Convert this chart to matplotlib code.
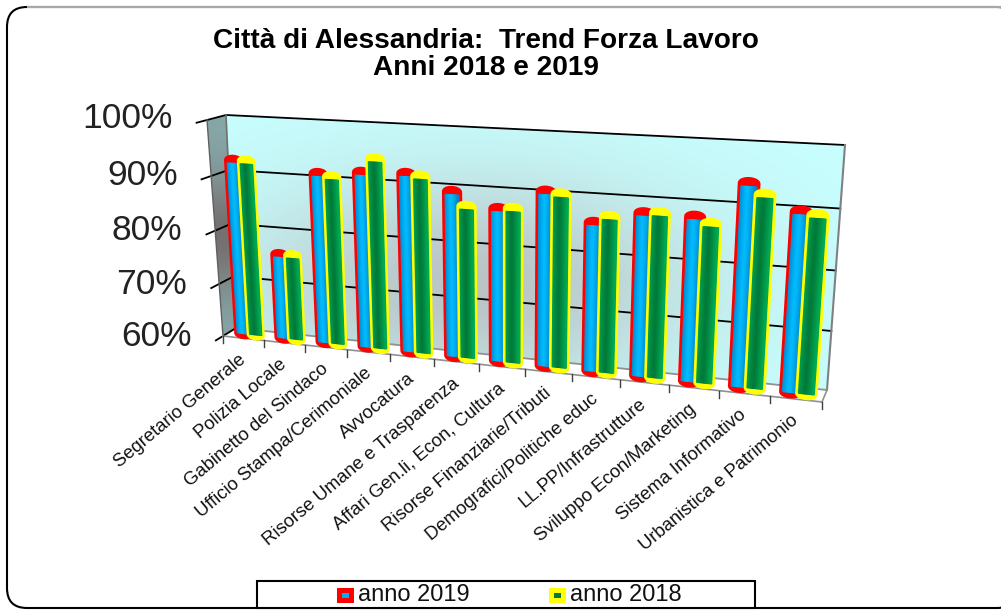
import numpy as np
import matplotlib
matplotlib.use("Agg")
import matplotlib.pyplot as plt
from matplotlib.patches import FancyBboxPatch, Polygon, Rectangle
from matplotlib.transforms import Transform

plt.rcParams['font.family'] = ['Liberation Sans', 'DejaVu Sans']

settori = ["Segretario Generale", "Polizia Locale", "Gabinetto del Sindaco",
           "Ufficio Stampa/Cerimoniale", "Avvocatura", "Risorse Umane e Trasparenza",
           "Affari Gen.li, Econ, Cultura", "Risorse Finanziarie/Tributi",
           "Demografici/Politiche educ", "LL.PP/Infrastrutture",
           "Sviluppo Econ/Marketing", "Sistema Informativo", "Urbanistica e Patrimonio"]
anno_2019 = [92.4, 75.7, 91.0, 91.7, 92.0, 89.4, 87.0, 90.5, 85.8, 88.0, 88.0, 94.0, 90.0]
anno_2018 = [92.4, 75.7, 90.6, 94.2, 91.7, 87.0, 87.2, 90.2, 87.0, 88.2, 87.0, 92.3, 89.6]
tick_perc = [60, 70, 80, 90, 100]

# angoli del grafico in pixel: basso sx, basso dx, alto dx, alto sx
DIETRO = np.array([(236, 328), (827, 390), (845, 145), (226, 115)], float)
DAVANTI = np.array([(223, 336), (822, 402), (838, 156), (207, 120)], float)
N = len(settori)
VMIN, VMAX = tick_perc[0], tick_perc[-1]


class Prospettiva(Transform):
    """Porta (settore, percentuale) sul piano alla profondita d (0 dietro, 1 davanti)."""
    input_dims = 2
    output_dims = 2
    is_separable = False

    def __init__(self, d):
        super().__init__()
        angoli = DIETRO + (DAVANTI - DIETRO) * d
        sorg = [(0, VMIN), (N, VMIN), (N, VMAX), (0, VMAX)]
        A, b = [], []
        for (x, y), (u, v) in zip(sorg, angoli):
            A.append([x, y, 1, 0, 0, 0, -u * x, -u * y])
            A.append([0, 0, 0, x, y, 1, -v * x, -v * y])
            b += [u, v]
        self.m = np.append(np.linalg.solve(np.array(A, float), np.array(b, float)), 1).reshape(3, 3)

    def transform_non_affine(self, values):
        p = np.column_stack([values, np.ones(len(values))]) @ self.m.T
        return p[:, :2] / p[:, 2:]


fig = plt.figure(figsize=(10.01, 6.10), dpi=100)
ax = fig.add_axes([0, 0, 1, 1])
ax.set_xlim(0, 1001)
ax.set_ylim(610, 0)
ax.axis('off')
ax.autoscale(False)

# cornice
ax.add_patch(FancyBboxPatch((7, 7), 1010, 601, boxstyle="round,pad=0,rounding_size=20",
                            fc='white', ec='black', lw=1.5))
ax.plot([28, 1001], [7, 7], color='#a8a8a8', lw=1.5)

ax.text(486, 41, "Città di Alessandria:  Trend Forza Lavoro", ha='center', va='center',
        fontsize=20.2, fontweight='bold')
ax.text(486, 68, "Anni 2018 e 2019", ha='center', va='center', fontsize=20.2, fontweight='bold')

p_dietro = Prospettiva(0)
p_davanti = Prospettiva(1)
p_piano = Prospettiva(0.5)
p_fuori = Prospettiva(1.55)
dietro = p_dietro + ax.transData
davanti = p_davanti + ax.transData
piano = p_piano + ax.transData

# parete di fondo con alone grigio
xx, yy = np.meshgrid(np.arange(1001), np.arange(610))
r = np.exp(-(((xx - 470) / 230.0) ** 2 + ((yy - 285) / 110.0) ** 2))
chiaro = np.array([200, 255, 255]) / 255
scuro = np.array([186, 196, 198]) / 255
img = chiaro + (scuro - chiaro) * r[..., None]
sfondo = ax.imshow(img, extent=(0, 1001, 610, 0), aspect='auto', zorder=1)
sfondo.set_clip_path(Polygon(DIETRO, transform=ax.transData))

# parete laterale
s = np.exp(-((yy - 235) / 60.0) ** 2)
lat = np.array([135, 168, 168]) / 255 + (np.array([118, 112, 112]) - np.array([135, 168, 168])) / 255 * s[..., None]
lato = ax.imshow(lat, extent=(0, 1001, 610, 0), aspect='auto', zorder=1)
lato.set_clip_path(Polygon([DIETRO[0], DAVANTI[0], DAVANTI[3], DIETRO[3]], transform=ax.transData))
ax.set_xlim(0, 1001)
ax.set_ylim(610, 0)

# pavimento
ax.add_patch(Polygon([DIETRO[0], DIETRO[1], DAVANTI[1], DAVANTI[0]], fc='white', ec='none', zorder=1))

# griglia e tacche
for v in tick_perc:
    ax.plot([0, N], [v, v], transform=dietro, color='black' if v > VMIN else '#909090', lw=1.3, zorder=2)
    p0 = p_dietro.transform([(0, v)])[0]
    p1 = p_fuori.transform([(0, v)])[0]
    ax.plot([p0[0], p1[0]], [p0[1], p1[1]], color='black', lw=1.3, zorder=2)
    ax.text(p1[0] - 24, p1[1] - 4, f"{v}%", ha='right', va='center', fontsize=25.5, color='#222222', zorder=5)
ax.plot([0, 0], [VMIN, VMAX], transform=dietro, color='#707070', lw=1.2, zorder=2)
ax.plot([N, N], [VMIN, VMAX], transform=dietro, color='#808080', lw=1.5, zorder=2)
ax.plot([0, 0], [VMIN, VMAX], transform=davanti, color='#606060', lw=1, zorder=2)
ax.plot([0, N], [VMIN, VMIN], transform=davanti, color='#909090', lw=1.2, zorder=2)
ax.plot(*zip(DIETRO[1], DAVANTI[1]), color='#909090', lw=1.2, zorder=2)
for i in range(N + 1):
    p = p_davanti.transform([(i, VMIN)])[0]
    ax.plot([p[0], p[0]], [p[1], p[1] + 7], color='#404040', lw=1, zorder=2)


def cilindro(cx, valore, bordo, c_lato, c_centro, zorder):
    w = 0.175
    h = 0.7
    t = np.linspace(0, np.pi, 25)
    # sagoma: mezza ellisse in alto e in basso
    xs = np.r_[cx + w * np.cos(t), cx - w * np.cos(t)]
    ys = np.r_[valore + h * np.sin(t), VMIN - h * np.sin(t)]
    ax.add_patch(Polygon(np.column_stack([xs, ys]), closed=True, fc=bordo, ec=bordo, lw=3.0,
                         joinstyle='round', transform=piano, zorder=zorder))
    bordi = np.linspace(-w * 0.86, w * 0.86, 15)
    c_l, c_c = np.array(c_lato), np.array(c_centro)
    for a, b in zip(bordi[:-1], bordi[1:]):
        q = abs((a + b) / 2 + w * 0.1) / w
        col = c_c + (c_l - c_c) * min(q / 0.86, 1) ** 1.2
        ax.add_patch(Polygon([(cx + a, VMIN), (cx + b, VMIN), (cx + b, valore - h * 0.7), (cx + a, valore - h * 0.7)],
                             fc=col, ec=col, lw=0.9, transform=piano, zorder=zorder))


BLU_L, BLU_C = (0.0, 0.52, 0.80), (0.0, 0.74, 1.0)
VER_L, VER_C = (0.0, 0.66, 0.32), (0.0, 0.47, 0.22)
for i in range(N):
    cilindro(i + 0.5 - 0.155, anno_2019[i], '#ff0000', BLU_L, BLU_C, 3 + i * 0.01)
    cilindro(i + 0.5 + 0.155, anno_2018[i], '#ffff00', VER_L, VER_C, 3 + i * 0.01 + 0.005)

# etichette dei settori
for i, nome in enumerate(settori):
    p = p_davanti.transform([(i + 0.5, VMIN)])[0]
    ax.text(p[0] - 5, p[1] + 13, nome, rotation=40, rotation_mode='anchor', ha='right', va='top',
            fontsize=13.3, color='#111111', zorder=5)

# legenda
ax.add_patch(Rectangle((257, 581), 498, 27, fc='white', ec='black', lw=1.5, zorder=6))
for x0, bordo, interno, testo in [(337, '#ff0000', '#00b0f0', "anno 2019"), (549, '#ffff00', '#007a3d', "anno 2018")]:
    ax.add_patch(Rectangle((x0, 588), 17, 15, fc=bordo, ec='none', zorder=7))
    ax.add_patch(Rectangle((x0 + 5, 593), 7, 5, fc=interno, ec='none', zorder=8))
    ax.text(x0 + 21, 595, testo, ha='left', va='center', fontsize=17, color='#111111', zorder=7)

fig.savefig("out.png", dpi=100)
